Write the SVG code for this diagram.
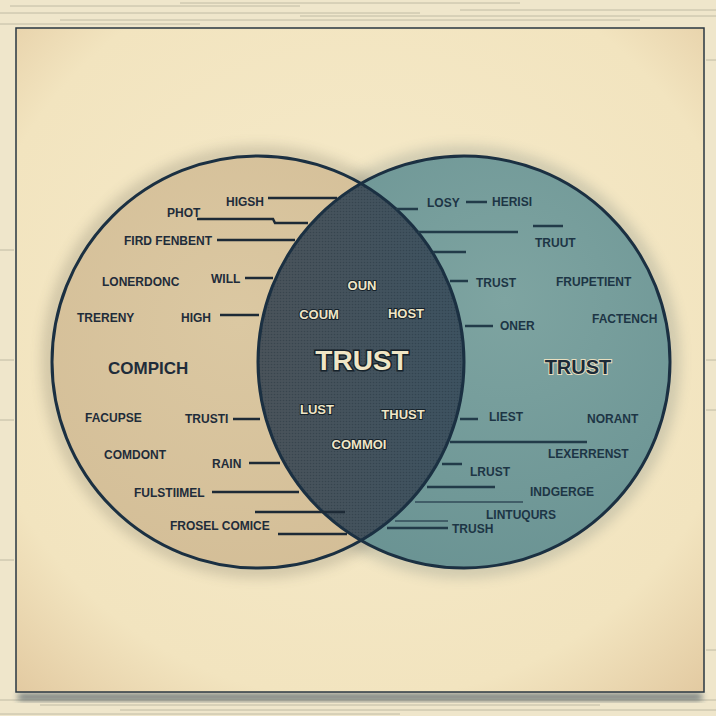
<svg xmlns="http://www.w3.org/2000/svg" width="716" height="716" viewBox="0 0 716 716">
  <defs>
    <radialGradient id="panelGrad" cx="50%" cy="45%" r="75%">
      <stop offset="0%" stop-color="#f6ebcb"/>
      <stop offset="75%" stop-color="#f2e4bf"/>
      <stop offset="100%" stop-color="#e2c9a0"/>
    </radialGradient>
    <radialGradient id="leftGrad" cx="45%" cy="40%" r="70%">
      <stop offset="0%" stop-color="#dbc8a2"/>
      <stop offset="100%" stop-color="#d3bd96"/>
    </radialGradient>
    <radialGradient id="rightGrad" cx="60%" cy="35%" r="70%">
      <stop offset="0%" stop-color="#7ea4a1"/>
      <stop offset="100%" stop-color="#6a9393"/>
    </radialGradient>
    <linearGradient id="lensGrad" x1="0" y1="0" x2="1" y2="0">
      <stop offset="0%" stop-color="#4a535a"/>
      <stop offset="50%" stop-color="#3d5260"/>
      <stop offset="100%" stop-color="#2b5668"/>
    </linearGradient>
    <pattern id="dots" width="3" height="3" patternUnits="userSpaceOnUse">
      <circle cx="1.5" cy="1.5" r="0.8" fill="#1b2a35"/>
    </pattern>
    <clipPath id="leftClip">
      <circle cx="258" cy="362" r="206"/>
    </clipPath>
    <filter id="blur" x="-20%" y="-20%" width="140%" height="140%">
      <feGaussianBlur stdDeviation="7"/>
    </filter>
    <filter id="shadowBlur" x="-5%" y="-50%" width="110%" height="200%">
      <feGaussianBlur stdDeviation="3"/>
    </filter>
  </defs>
  <style>
    .lbl { font-family: "Liberation Sans", Arial, sans-serif; font-weight: bold; font-size: 12px; fill: #1f2c3a; }
    .rlbl { font-family: "Liberation Sans", Arial, sans-serif; font-weight: bold; font-size: 12px; fill: #1d3545; }
    .lens { font-family: "Liberation Sans", Arial, sans-serif; font-weight: bold; font-size: 13px; fill: #f0e6c6; text-anchor: middle; stroke: #16222b; stroke-width: 2; paint-order: stroke; }
    .conn { stroke: #1d2a36; stroke-width: 2.5; fill: none; }
    .connR { stroke: #223b49; stroke-width: 2.5; fill: none; }
    .connL { stroke: #36505c; stroke-width: 2; fill: none; opacity: 0.8; }
    .stripe { stroke: #6d6a5e; stroke-width: 1; opacity: 0.35; }
  </style>

  <!-- outer background -->
  <rect x="0" y="0" width="716" height="716" fill="#efe6cb"/>
  <g id="stripes">
    <line class="stripe" x1="10" y1="6" x2="300" y2="6"/>
    <line class="stripe" x1="180" y1="3" x2="520" y2="3"/>
    <line class="stripe" x1="0" y1="13" x2="420" y2="13"/>
    <line class="stripe" x1="460" y1="10" x2="716" y2="10"/>
    <line class="stripe" x1="60" y1="20" x2="640" y2="20"/>
    <line class="stripe" x1="300" y1="16" x2="716" y2="16"/>
    <line class="stripe" x1="0" y1="24" x2="200" y2="24"/>
    <line class="stripe" x1="0" y1="700" x2="716" y2="700"/>
    <line class="stripe" x1="40" y1="705" x2="600" y2="705"/>
    <line class="stripe" x1="120" y1="710" x2="716" y2="710"/>
    <line class="stripe" x1="0" y1="714" x2="400" y2="714"/>
    <line class="stripe" x1="0" y1="250" x2="14" y2="250"/>
    <line class="stripe" x1="0" y1="360" x2="14" y2="360"/>
    <line class="stripe" x1="0" y1="420" x2="14" y2="420"/>
    <line class="stripe" x1="0" y1="560" x2="14" y2="560"/>
    <line class="stripe" x1="706" y1="60" x2="716" y2="60"/>
    <line class="stripe" x1="706" y1="360" x2="716" y2="360"/>
    <line class="stripe" x1="706" y1="410" x2="716" y2="410"/>
    <line class="stripe" x1="706" y1="650" x2="716" y2="650"/>
  </g>

  <!-- panel -->
  <rect x="18" y="694" width="684" height="6" fill="#23394a" opacity="0.7" filter="url(#shadowBlur)"/>
  <rect id="panel" x="16" y="28" width="688" height="664" fill="url(#panelGrad)" stroke="#2a3742" stroke-width="1.5"/>

  <!-- halos -->
  <circle cx="258" cy="362" r="208" fill="none" stroke="#3a3a32" stroke-width="14" opacity="0.22" filter="url(#blur)"/>
  <circle cx="464" cy="362" r="208" fill="none" stroke="#2d4a52" stroke-width="14" opacity="0.22" filter="url(#blur)"/>

  <g id="circle-left">
    <circle cx="258" cy="362" r="206" fill="url(#leftGrad)"/>
  </g>
  <g id="circle-right">
    <circle cx="464" cy="362" r="206" fill="url(#rightGrad)"/>
  </g>
  <g id="lens">
    <circle cx="464" cy="362" r="206" fill="url(#lensGrad)" clip-path="url(#leftClip)"/>
    <circle cx="464" cy="362" r="206" fill="url(#dots)" opacity="0.35" clip-path="url(#leftClip)"/>
  </g>
  <g id="outlines">
    <circle cx="258" cy="362" r="206" fill="none" stroke="#1b3042" stroke-width="3"/>
    <circle cx="464" cy="362" r="206" fill="none" stroke="#1b3042" stroke-width="3"/>
  </g>

  <!-- connectors -->
  <g id="connectors">
    <path class="conn" d="M268,198 H337"/>
    <path class="conn" d="M197,219 H273 L275,223 H308"/>
    <path class="conn" d="M217,240 H295"/>
    <path class="conn" d="M245,278 H273"/>
    <path class="conn" d="M220,315 H259"/>
    <path class="conn" d="M233,419 H260"/>
    <path class="conn" d="M249,463 H280"/>
    <path class="conn" d="M212,492 H299"/>
    <path class="conn" d="M255,512 H345"/>
    <path class="conn" d="M278,534 H347"/>
    <path class="connR" d="M396,209 H418"/>
    <path class="connR" d="M466,202 H487"/>
    <path class="connR" d="M533,226 H563"/>
    <path class="connR" d="M418,232 H518"/>
    <path class="connR" d="M433,252 H466"/>
    <path class="connR" d="M450,281 H468"/>
    <path class="connR" d="M465,326 H493"/>
    <path class="connR" d="M460,419 H478"/>
    <path class="connR" d="M450,442 H587"/>
    <path class="connR" d="M442,464 H462"/>
    <path class="connR" d="M427,487 H495"/>
    <path class="connL" d="M415,502 H523"/>
    <path class="connL" d="M395,521 H448"/>
    <path class="connR" d="M387,528 H448"/>
  </g>

  <!-- left labels -->
  <g id="left-labels">
    <text id="t-higsh" class="lbl" x="226" y="206">HIGSH</text>
    <text id="t-phot" class="lbl" x="167" y="217">PHOT</text>
    <text id="t-fird" class="lbl" x="124" y="245">FIRD FENBENT</text>
    <text id="t-lonerdonc" class="lbl" x="102" y="286">LONERDONC</text>
    <text id="t-will" class="lbl" x="211" y="283">WILL</text>
    <text id="t-treremy" class="lbl" x="77" y="322">TRERENY</text>
    <text id="t-high" class="lbl" x="181" y="322">HIGH</text>
    <text id="t-compich" class="lbl" x="108" y="374" style="font-size:17px">COMPICH</text>
    <text id="t-facupse" class="lbl" x="85" y="422">FACUPSE</text>
    <text id="t-trusti" class="lbl" x="185" y="423">TRUSTI</text>
    <text id="t-comdont" class="lbl" x="104" y="459">COMDONT</text>
    <text id="t-rain" class="lbl" x="212" y="468">RAIN</text>
    <text id="t-fulstiimel" class="lbl" x="134" y="497">FULSTIIMEL</text>
    <text id="t-frosel" class="lbl" x="170" y="530">FROSEL COMICE</text>
  </g>

  <!-- lens labels -->
  <g id="lens-labels">
    <text id="t-oun" class="lens" x="362" y="290">OUN</text>
    <text id="t-coum" class="lens" x="319" y="319">COUM</text>
    <text id="t-host" class="lens" x="406" y="318">HOST</text>
    <text id="t-trust-center" class="lens" x="362" y="370" style="font-size:28px;stroke-width:3">TRUST</text>
    <text id="t-lust" class="lens" x="317" y="414">LUST</text>
    <text id="t-thust" class="lens" x="403" y="419">THUST</text>
    <text id="t-commoi" class="lens" x="359" y="449">COMMOI</text>
  </g>

  <!-- right labels -->
  <g id="right-labels">
    <text id="t-losy" class="rlbl" x="427" y="207">LOSY</text>
    <text id="t-herisi" class="rlbl" x="492" y="206">HERISI</text>
    <text id="t-truut" class="rlbl" x="535" y="247">TRUUT</text>
    <text id="t-trust-r" class="rlbl" x="476" y="287">TRUST</text>
    <text id="t-frupetient" class="rlbl" x="556" y="286">FRUPETIENT</text>
    <text id="t-oner" class="rlbl" x="500" y="330">ONER</text>
    <text id="t-factench" class="rlbl" x="592" y="323">FACTENCH</text>
    <text id="t-trust-right" class="rlbl" x="578" y="374" text-anchor="middle" style="font-size:20px;fill:#1c2b38;stroke:#e9dfc0;stroke-width:2;paint-order:stroke">TRUST</text>
    <text id="t-liest" class="rlbl" x="489" y="421">LIEST</text>
    <text id="t-norant" class="rlbl" x="587" y="423">NORANT</text>
    <text id="t-lexerrenst" class="rlbl" x="548" y="458">LEXERRENST</text>
    <text id="t-lrust" class="rlbl" x="470" y="476">LRUST</text>
    <text id="t-indgerge" class="rlbl" x="530" y="496">INDGERGE</text>
    <text id="t-lintuqurs" class="rlbl" x="486" y="519">LINTUQURS</text>
    <text id="t-trush" class="rlbl" x="452" y="533">TRUSH</text>
  </g>
</svg>
